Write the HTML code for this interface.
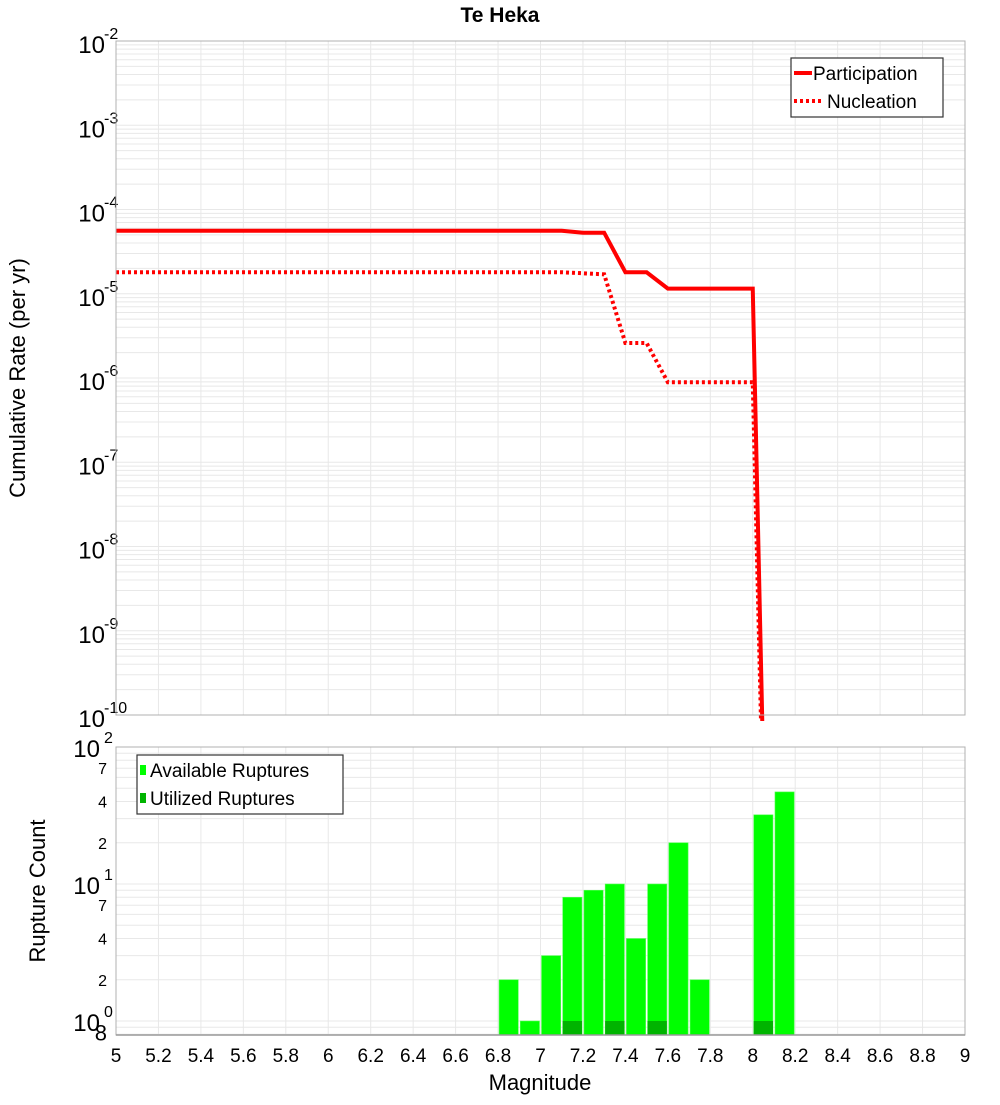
<!DOCTYPE html>
<html><head><meta charset="utf-8">
<style>
body{margin:0;background:#fff;}
svg text{font-family:"Liberation Sans","DejaVu Sans",sans-serif;}
</style></head>
<body>
<svg id="chart" width="1000" height="1100" xmlns="http://www.w3.org/2000/svg">
<rect width="1000" height="1100" fill="#fff"/>
<text x="500" y="22" text-anchor="middle" font-size="21" font-weight="bold">Te Heka</text>
<g id="topplot"></g>
<g id="botplot"></g>
<text transform="translate(25,378) rotate(-90)" text-anchor="middle" font-size="22">Cumulative Rate (per yr)</text>
<text transform="translate(45,891) rotate(-90)" text-anchor="middle" font-size="22">Rupture Count</text>
<text x="540" y="1090" text-anchor="middle" font-size="22">Magnitude</text>
</svg>
<script>
const partMags=[5,5.1,5.2,5.3,5.4,5.5,5.6,5.7,5.8,5.9,6,6.1,6.2,6.3,6.4,6.5,6.6,6.7,6.8,6.9,7,7.1,7.2,7.3,7.4,7.5,7.6,7.7,7.8,7.9,8,8.1];
const partRates=[5.6e-5,5.6e-5,5.6e-5,5.6e-5,5.6e-5,5.6e-5,5.6e-5,5.6e-5,5.6e-5,5.6e-5,5.6e-5,5.6e-5,5.6e-5,5.6e-5,5.6e-5,5.6e-5,5.6e-5,5.6e-5,5.6e-5,5.6e-5,5.6e-5,5.6e-5,5.3e-5,5.3e-5,1.8e-5,1.8e-5,1.15e-5,1.15e-5,1.15e-5,1.15e-5,1.15e-5,4e-17];
const nuclRates=[1.8e-5,1.8e-5,1.8e-5,1.8e-5,1.8e-5,1.8e-5,1.8e-5,1.8e-5,1.8e-5,1.8e-5,1.8e-5,1.8e-5,1.8e-5,1.8e-5,1.8e-5,1.8e-5,1.8e-5,1.8e-5,1.8e-5,1.8e-5,1.8e-5,1.8e-5,1.75e-5,1.7e-5,2.6e-6,2.6e-6,8.9e-7,8.9e-7,8.9e-7,8.9e-7,8.9e-7,4e-17];
const binMags=[6.8,6.9,7.0,7.1,7.2,7.3,7.4,7.5,7.6,7.7,8.0,8.1];
const availCounts=[2,1,3,8,9,10,4,10,20,2,32,47];
const usedCounts=[0,0,0,1,0,1,0,1,0,0,1,0];
const xTicks=[5,5.2,5.4,5.6,5.8,6,6.2,6.4,6.6,6.8,7,7.2,7.4,7.6,7.8,8,8.2,8.4,8.6,8.8,9];
const topExps=[-2,-3,-4,-5,-6,-7,-8,-9,-10];

const NS="http://www.w3.org/2000/svg";
const L=116,R=965;
const T1=41,B1=715,T2=747,B2=1035;
const xs=m=>L+(m-5)*(R-L)/4;
const yTop=v=>T1+(-2-Math.log10(v))*(B1-T1)/8;
const Y0=1021,DEC=137;
const yBot=v=>Y0-Math.log10(v)*DEC;
function el(p,t,a){const e=document.createElementNS(NS,t);for(const k in a)e.setAttribute(k,a[k]);p.appendChild(e);return e;}
const topG=document.getElementById('topplot'),botG=document.getElementById('botplot');

// top grid
let gt=el(topG,'g',{});


for(let e=-10;e<-2;e++)for(let k=1;k<10;k++){const yy=yTop(k*Math.pow(10,e));el(gt,'line',{x1:L,x2:R,y1:yy,y2:yy,stroke:'#e8e8e8','stroke-width':1});}
xTicks.forEach(t=>el(gt,'line',{x1:xs(t),x2:xs(t),y1:T1,y2:B1,stroke:'#e8e8e8','stroke-width':1}));
topExps.forEach(e=>{const yy=yTop(Math.pow(10,e));
 const t=el(topG,'text',{x:105,y:yy+12,'text-anchor':'end','font-size':24});
 
 
 t.textContent='10';
 const s=el(topG,'text',{x:104,y:yy-2,'font-size':16});
 
 
 s.textContent=String(e);});
const clip=el(topG,'clipPath',{id:'c1'});el(clip,'rect',{x:L,y:T1,width:R-L,height:B1-T1+6});
const pp=el(topG,'polyline',{points:partMags.map((m,i)=>xs(m)+','+yTop(partRates[i])).join(' '),fill:'none',stroke:'#ff0000','stroke-width':4,'clip-path':'url(#c1)'});


const np=el(topG,'polyline',{points:partMags.map((m,i)=>xs(m)+','+yTop(nuclRates[i])).join(' '),fill:'none',stroke:'#ff0000','stroke-width':4,'stroke-dasharray':'3,3','clip-path':'url(#c1)'});


el(topG,'rect',{x:L,y:T1,width:R-L,height:B1-T1,fill:'none',stroke:'#b0b0b0','stroke-width':1});
const lg=el(topG,'g',{});


el(lg,'rect',{x:791,y:58,width:152,height:59,fill:'#fff',stroke:'#333','stroke-width':1.2});
el(lg,'line',{x1:794,x2:812,y1:73,y2:73,stroke:'#f00','stroke-width':4});
el(lg,'line',{x1:794,x2:822,y1:101,y2:101,stroke:'#f00','stroke-width':4,'stroke-dasharray':'3,3'});
let t1=el(lg,'text',{x:813,y:80,'font-size':19});t1.textContent='Participation';
let t2=el(lg,'text',{x:827,y:108,'font-size':19});t2.textContent='Nucleation';

// bottom grid
let gb=el(botG,'g',{});


for(let e=-1;e<2;e++)for(let k=1;k<10;k++){const v=k*Math.pow(10,e);const yy=yBot(v);if(yy<T2||yy>B2)continue;el(gb,'line',{x1:L,x2:R,y1:yy,y2:yy,stroke:'#e8e8e8','stroke-width':1});}
xTicks.forEach(t=>el(gb,'line',{x1:xs(t),x2:xs(t),y1:T2,y2:B2,stroke:'#e8e8e8','stroke-width':1}));
binMags.forEach((m,i)=>{
 const b=el(botG,'rect',{x:xs(m)+1,y:yBot(availCounts[i]),width:xs(m+0.1)-xs(m)-2,height:B2-yBot(availCounts[i]),fill:'#00ff00',stroke:'#55ff55','stroke-width':0.6});
 
 
 if(usedCounts[i]>0){const u=el(botG,'rect',{x:xs(m)+1,y:yBot(usedCounts[i]),width:xs(m+0.1)-xs(m)-2,height:B2-yBot(usedCounts[i]),fill:'#00b400'});
 
 }
});
el(botG,'rect',{x:L,y:T2,width:R-L,height:B2-T2,fill:'none',stroke:'#b0b0b0','stroke-width':1});
el(botG,'line',{x1:L,x2:R,y1:B2,y2:B2,stroke:'#999','stroke-width':1.5});
[[2,'2'],[1,'1'],[0,'0']].forEach(([e,s])=>{const yy=yBot(Math.pow(10,e));
 const t=el(botG,'text',{x:100,y:yy+10,'text-anchor':'end','font-size':24});
 
 
 t.textContent='10';
 const u=el(botG,'text',{x:104,y:yy-4,'font-size':16});u.textContent=s;});
[[70,'7'],[40,'4'],[20,'2'],[7,'7'],[4,'4'],[2,'2'],[0.8,'8']].forEach(([v,s])=>{
 const t=el(botG,'text',{x:107,y:yBot(v)+6,'text-anchor':'end','font-size':v===0.8?22:16});
 
 
 t.textContent=s;});
xTicks.forEach(t=>{const tx=el(botG,'text',{x:xs(t),y:1062,'text-anchor':'middle','font-size':19});
 
 
 tx.textContent=String(t);});
const lb=el(botG,'g',{});


el(lb,'rect',{x:137,y:755,width:206,height:59,fill:'#fff',stroke:'#333','stroke-width':1.2});
el(lb,'rect',{x:140,y:765,width:6,height:10,fill:'#00ff00'});
el(lb,'rect',{x:140,y:793,width:6,height:10,fill:'#00b400'});
let t3=el(lb,'text',{x:150,y:777,'font-size':19});t3.textContent='Available Ruptures';
let t4=el(lb,'text',{x:150,y:805,'font-size':19});t4.textContent='Utilized Ruptures';
</script>
</body></html>
